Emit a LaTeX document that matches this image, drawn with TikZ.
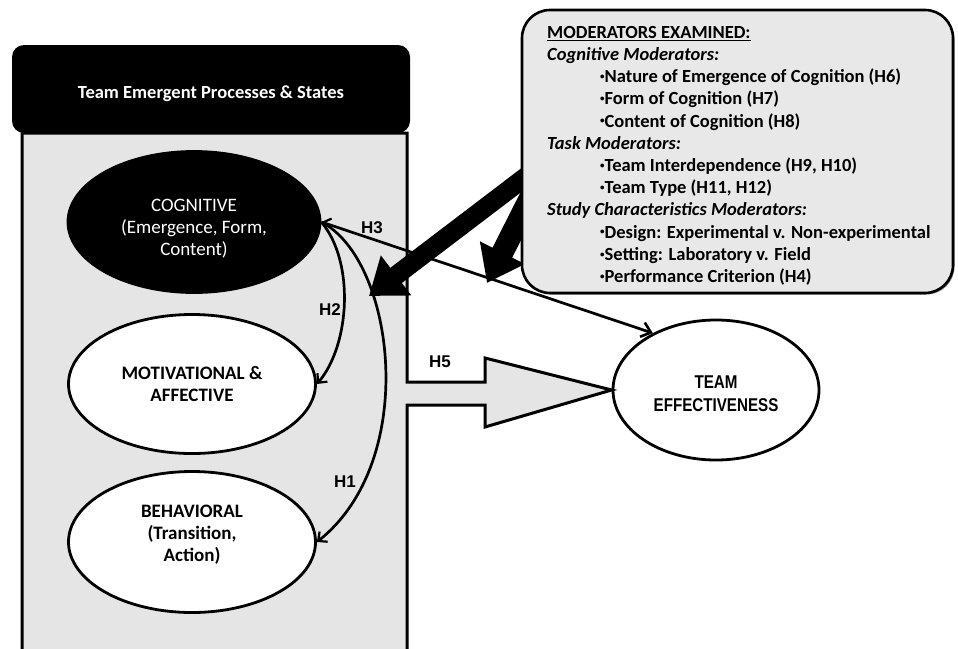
\documentclass[tikz,border=0pt]{standalone}
\usepackage{fontspec}
\setmainfont{Carlito}
\newfontfamily\hfont{Liberation Sans}
\newfontfamily\narrowfont[FakeStretch=0.82]{Liberation Sans}
\usetikzlibrary{positioning, arrows.meta, shapes.geometric, shadows}

\newcommand{\modbullet}{\hspace*{53pt}\raisebox{0.35ex}{\fontsize{9}{9}\selectfont•}}

\begin{document}
\begin{tikzpicture}[
  x=1pt, y=-1pt,
  state/.style={draw, ellipse, line width=2.8pt, fill=white, inner sep=0pt,
    minimum width=247pt, minimum height=139pt, align=center,
    font=\fontsize{19}{22}\selectfont\bfseries},
  hlabel/.style={font=\hfont\fontsize{17}{18}\selectfont\bfseries},
  link/.style={line width=2.7pt, -{Straight Barb[length=7pt,width=13pt,line width=2.2pt]}},
  bigarrow/.style={line width=19pt, -{Triangle[length=34pt,width=48pt]}},
]
  \useasboundingbox (0,0) rectangle (958,648);
  \clip (0,0) rectangle (958,648);

  % outcome
  \node[state, minimum width=206pt, minimum height=140pt,
        font=\narrowfont\fontsize{18.5}{23}\selectfont\bfseries] (te) at (716,390)
    {\rule{0pt}{21pt}TEAM\\EFFECTIVENESS};

  % left panel with the H5 block arrow
  \draw[line width=3pt, fill=black!10]
    (22,133) -- (407,133) -- (407,382) -- (485,382) -- (485,358) -- (te.west)
    -- (485,427) -- (485,405) -- (407,405) -- (407,670) -- (22,670) -- cycle;
  \node[fill=black, rounded corners=12pt, minimum width=398pt, minimum height=88pt,
        text=white, font=\fontsize{18.5}{22}\selectfont\bfseries] (header) at (211,89)
    {\rule{0pt}{23pt}Team Emergent Processes \& States};

  \node[state, fill=black, text=white, minimum width=252pt, minimum height=141pt,
        font=\fontsize{19}{22}\selectfont] (cog) at (194,222)
    {\rule{0pt}{25pt}COGNITIVE\\(Emergence, Form,\\Content)};
  \node[state] (mot) at (192,384) {MOTIVATIONAL \&\\AFFECTIVE};
  \node[state, minimum height=141pt] (beh) at (192,542)
    {BEHAVIORAL\\(Transition,\\Action)\rule[-18pt]{0pt}{1pt}};

  % moderators
  \coordinate (m1) at (532,172);
  \coordinate (t1) at (369,296);
  \coordinate (m2) at (534,190);
  \coordinate (t2) at (487,283);
  \draw[bigarrow] (m1) -- (t1);
  \draw[bigarrow, line width=22pt] (m2) -- (t2);
  \node[draw, line width=2.6pt, fill=black!9, rounded corners=28pt,
        minimum width=431pt, minimum height=283pt,
        drop shadow={shadow xshift=1.5pt, shadow yshift=-1.5pt, fill=black}]
    (mods) at (737.5,151.5) {};
  \node[anchor=north west, inner sep=0pt, align=left,
        font=\fontsize{18.5}{22.2}\selectfont\bfseries] (modtext) at (547,26)
    {\underline{MODERATORS EXAMINED:}\\
     \textit{Cognitive Moderators:}\\
     \modbullet Nature of Emergence of Cognition (H6)\\
     \modbullet Form of Cognition (H7)\\
     \modbullet Content of Cognition (H8)\\
     \textit{Task Moderators:}\\
     \modbullet Team Interdependence (H9, H10)\\
     \modbullet Team Type (H11, H12)\\
     \textit{Study Characteristics Moderators:}\\
     \modbullet Design: Experimental v. Non-experimental\\
     \modbullet Setting: Laboratory v. Field\\
     \modbullet Performance Criterion (H4)};

  % hypotheses
  \draw[link, {Straight Barb[length=7pt,width=13pt,line width=2.2pt]}-{Straight Barb[length=9pt,width=15pt,line width=2.6pt]}]
    (cog.east) -- (te.138);
  \draw[link] (cog.east) .. controls (355,262) and (350,345) .. (mot.east);
  \draw[link] (cog.east) .. controls (395,260) and (420,460) .. (beh.east);
  \node[hlabel] (h3) at (372,228) {H3};
  \node[hlabel] (h2) at (330,310) {H2};
  \node[hlabel] (h1) at (345,482) {H1};
  \node[hlabel] (h5) at (440,362) {H5};
\end{tikzpicture}
\end{document}
